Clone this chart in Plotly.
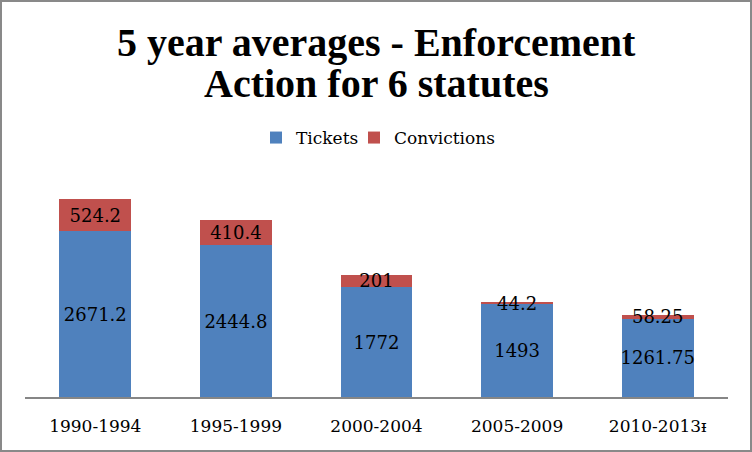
import plotly.graph_objects as go

categories = ["1990-1994", "1995-1999", "2000-2004", "2005-2009", "2010-2013ᵻ"]
tickets = [2671.2, 2444.8, 1772, 1493, 1261.75]
convictions = [524.2, 410.4, 201, 44.2, 58.25]
ticket_labels = ["2671.2", "2444.8", "1772", "1493", "1261.75"]
conviction_labels = ["524.2", "410.4", "201", "44.2", "58.25"]

W, H = 752, 452
ML, MR, MT, MB = 25, 24, 180, 55
serif = "DejaVu Serif"

fig = go.Figure()
fig.add_bar(x=categories, y=tickets, name="Tickets",
            marker=dict(color="#4F81BD", line=dict(width=0)),
            text=ticket_labels, textposition="inside", insidetextanchor="middle",
            textangle=0, legend="legend",
            textfont=dict(family=serif, size=18, color="black"), width=0.51)
fig.add_bar(x=categories, y=convictions, name="Convictions",
            marker=dict(color="#C0504D", line=dict(width=0)),
            text=conviction_labels, textposition="inside", insidetextanchor="middle",
            textangle=0, legend="legend2",
            textfont=dict(family=serif, size=18, color="black"), width=0.51)

pw = W - ML - MR
ph = H - MT - MB

def py(pix):
    # pixel row -> paper y
    return (H - MB - pix) / ph

def px(pix):
    return (pix - ML) / pw

legend_common = dict(orientation="h", xanchor="left", y=py(138), yanchor="middle",
                     font=dict(family=serif, size=17, color="black"), itemwidth=30,
                     bgcolor="rgba(0,0,0,0)")

fig.update_layout(
    width=W, height=H, barmode="stack",
    margin=dict(l=ML, r=MR, t=MT, b=MB),
    paper_bgcolor="white", plot_bgcolor="white",
    uniformtext=dict(minsize=18, mode="show"),
    showlegend=True,
    legend=dict(x=px(256), **legend_common),
    legend2=dict(x=px(354), **legend_common),
    xaxis=dict(showline=True, linecolor="#868686", linewidth=1.5,
               ticks="outside", ticklen=13, tickcolor="rgba(0,0,0,0)",
               tickfont=dict(family=serif, size=17, color="black"), showgrid=False),
    yaxis=dict(range=[0, 3500], visible=False, showgrid=False),
    annotations=[
        dict(text="<b>5 year averages - Enforcement</b>", xref="paper", yref="paper",
             x=0.5, y=py(42), xanchor="center", yanchor="middle", showarrow=False,
             font=dict(family="Liberation Serif", size=40, color="black")),
        dict(text="<b>Action for 6 statutes</b>", xref="paper", yref="paper",
             x=0.5, y=py(84), xanchor="center", yanchor="middle", showarrow=False,
             font=dict(family="Liberation Serif", size=40, color="black")),
    ],
    shapes=[dict(type="rect", xref="paper", yref="paper",
                 x0=(1 - ML) / pw, x1=(W - ML - 1) / pw,
                 y0=py(H - 1), y1=py(1),
                 line=dict(color="#898989", width=2), fillcolor="rgba(0,0,0,0)")],
)

fig.write_html("out.html", config={"displayModeBar": False},
               post_script="document.body.style.margin='0';")
